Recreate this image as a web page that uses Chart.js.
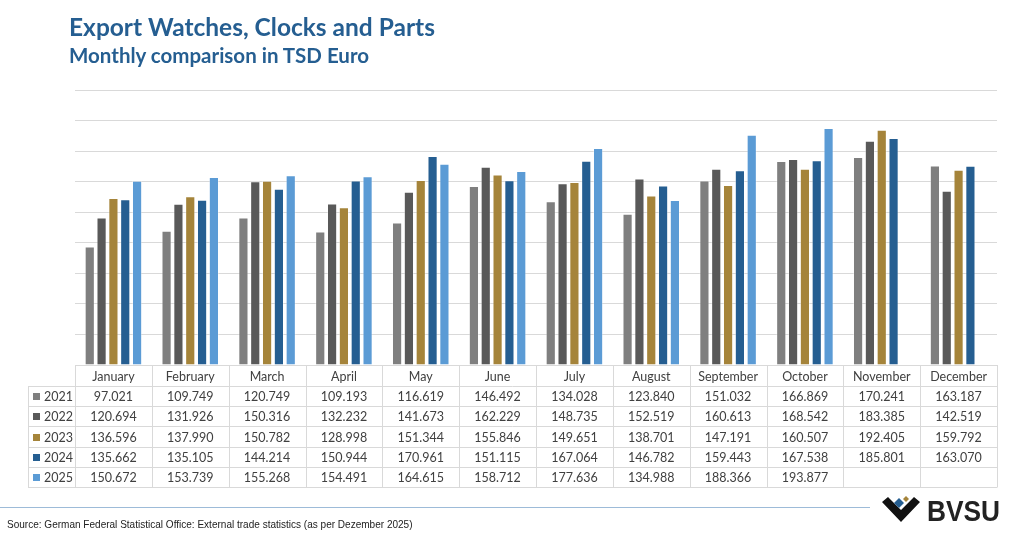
<!DOCTYPE html>
<html><head><meta charset="utf-8">
<script src="https://cdn.jsdelivr.net/npm/chart.js@4.4.1/dist/chart.umd.min.js"></script>
<style>
html,body{margin:0;padding:0;background:#fff;}
#wrap{position:relative;width:1024px;height:537px;overflow:hidden;background:#fff;}
canvas{position:absolute;left:0;top:0;}
#title{position:absolute;left:69px;top:12px;font-family:Lato,"Open Sans",sans-serif;font-weight:700;font-size:24.5px;color:#255e91;white-space:nowrap;}
#sub{position:absolute;left:69px;top:43px;font-family:Lato,"Open Sans",sans-serif;font-weight:700;font-size:20.5px;color:#255e91;white-space:nowrap;}
#line{position:absolute;left:0;top:507px;width:870px;height:1px;background:#9dbbd8;}
#src{position:absolute;left:7px;top:518px;font-family:"Liberation Sans Narrow","Liberation Sans",sans-serif;font-size:10.5px;color:#222;white-space:nowrap;transform-origin:0 0;transform:scaleX(0.955);}
#logo{position:absolute;left:880px;top:494px;}
</style></head><body>
<div id="wrap">
<canvas id="c" width="1024" height="537"></canvas>
<div id="title">Export Watches, Clocks and Parts</div>
<div id="sub">Monthly comparison in TSD Euro</div>
<div id="line"></div>
<div id="src">Source: German Federal Statistical Office: External trade statistics (as per Dezember 2025)</div>
<svg id="logo" width="125" height="34" viewBox="0 0 125 34">
  <polygon points="2,8 8,3 21,16 34,3 40,8 21,28" fill="#111"/>
  <polygon points="14,9 19,4 24,9 19,14" fill="#255e91"/>
  <polygon points="23,5 26,2 29,5 26,8" fill="#a5843a"/>
  <text x="47" y="27" font-family="'Liberation Sans Narrow','Liberation Sans',sans-serif" font-weight="700" font-size="30" fill="#222" textLength="73" lengthAdjust="spacingAndGlyphs">BVSU</text>
</svg>
</div>
<script>
const months = ["January","February","March","April","May","June","July","August","September","October","November","December"];
const years = ["2021","2022","2023","2024","2025"];
const v2021 = [97021,109749,120749,109193,116619,146492,134028,123840,151032,166869,170241,163187];
const v2022 = [120694,131926,150316,132232,141673,162229,148735,152519,160613,168542,183385,142519];
const v2023 = [136596,137990,150782,128998,151344,155846,149651,138701,147191,160507,192405,159792];
const v2024 = [135662,135105,144214,150944,170961,151115,167064,146782,159443,167538,185801,163070];
const v2025 = [150672,153739,155268,154491,164615,158712,177636,134988,188366,193877,null,null];
const colors = ["#7f7f7f","#595959","#a5843a","#255e91","#5b9bd5"];
const series = [v2021,v2022,v2023,v2024,v2025];

const fmt = v => v==null ? "" : v.toLocaleString("de-DE");
const FONT = 'Lato, "Open Sans", sans-serif';

const tablePlugin = {
  id:'table',
  afterDraw(chart){
    const ctx = chart.ctx, xs = chart.scales.x, area = chart.chartArea;
    const step = xs.getPixelForValue(1) - xs.getPixelForValue(0);
    const right = area.right, left = area.left;
    const top = area.bottom, hdrH = 21, rowH = 20.2;
    const labelLeft = 28;
    ctx.save();
    ctx.strokeStyle = "#d9d9d9"; ctx.lineWidth = 1;
    ctx.beginPath();
    ctx.moveTo(left, top+0.5); ctx.lineTo(right, top+0.5);
    for(let r=0;r<=years.length;r++){
      const y = Math.round(top+hdrH+r*rowH)+0.5;
      ctx.moveTo(labelLeft, y); ctx.lineTo(right, y);
    }
    const bottom = Math.round(top+hdrH+years.length*rowH)+0.5;
    ctx.moveTo(labelLeft+0.5, top+hdrH); ctx.lineTo(labelLeft+0.5, bottom);
    for(let i=0;i<=months.length;i++){
      const x = Math.round(xs.getPixelForValue(i) - step/2)+0.5;
      ctx.moveTo(x, top); ctx.lineTo(x, bottom);
    }
    ctx.stroke();
    ctx.fillStyle = "#404040";
    ctx.font = "12.5px " + FONT;
    ctx.textAlign = "center"; ctx.textBaseline = "middle";
    months.forEach((m,i)=>{
      ctx.fillText(m, xs.getPixelForValue(i), top+hdrH/2+1);
    });
    years.forEach((yr,r)=>{
      const cy = top+hdrH+r*rowH+rowH/2+1;
      series[r].forEach((v,i)=>{
        ctx.fillText(fmt(v), xs.getPixelForValue(i), cy);
      });
      ctx.fillStyle = colors[r];
      ctx.fillRect(33, Math.round(cy-4), 7, 7);
      ctx.fillStyle = "#404040";
      ctx.textAlign = "left";
      ctx.fillText(yr, 44, cy);
      ctx.textAlign = "center";
    });
    ctx.restore();
  }
};

new Chart(document.getElementById('c'), {
  type:'bar',
  data:{
    labels: months,
    datasets: years.map((y,i)=>({
      label:y, data:series[i], backgroundColor:colors[i],
      borderColor:"rgba(255,255,255,0.35)", borderWidth:1,
      barPercentage:0.86, categoryPercentage:0.77
    }))
  },
  options:{
    responsive:false, animation:false,
    layout:{padding:{left:75,top:90,right:27,bottom:172}},
    plugins:{legend:{display:false}, tooltip:{enabled:false}, title:{display:false}},
    scales:{
      x:{display:false, offset:true},
      y:{min:0,max:225000,
         ticks:{display:false,stepSize:25000},
         grid:{color:"#d9d9d9",drawTicks:false,lineWidth:1},
         border:{display:false},
         afterFit(s){s.width=0;}
      }
    }
  },
  plugins:[tablePlugin]
});
</script>
</body></html>
